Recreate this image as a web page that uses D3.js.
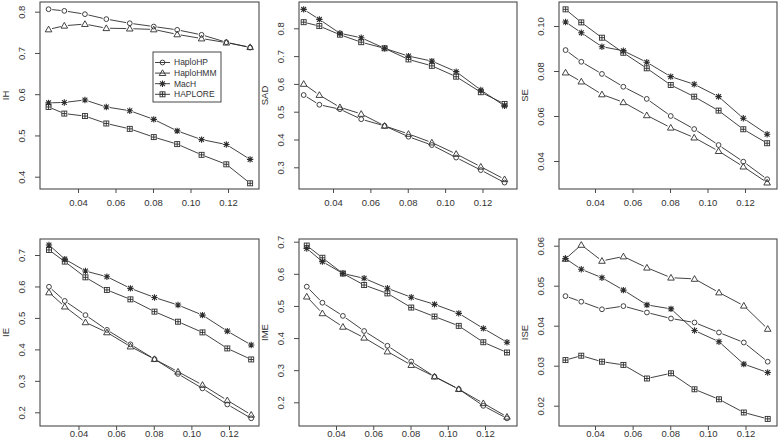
<!DOCTYPE html>
<html><head><meta charset="utf-8">
<script src="https://cdn.jsdelivr.net/npm/d3@7"></script>
<style>body{margin:0;background:#fff}svg{display:block}text{font-family:"Liberation Sans",Arial,sans-serif;fill:#333}</style>
</head><body><svg id="c" width="779" height="447"></svg>
<script>
// ---- data ----
const xValues = [0.0243, 0.0327, 0.0437, 0.0551, 0.0676, 0.0804, 0.0929, 0.1059, 0.1191, 0.1318];
const seriesNames = ["HaploHP", "HaploHMM", "MacH", "HAPLORE"];
const panelNames = ["IH", "SAD", "SE", "IE", "IME", "ISE"];
const xTicks = [0.04, 0.06, 0.08, 0.10, 0.12];
const xTickLabels = ["0.04", "0.06", "0.08", "0.10", "0.12"];

const ihHaploHP  = [0.806, 0.802, 0.794, 0.782, 0.772, 0.764, 0.756, 0.744, 0.726, 0.713];
const ihHaploHMM = [0.757, 0.766, 0.770, 0.760, 0.759, 0.757, 0.745, 0.735, 0.725, 0.714];
const ihMacH     = [0.579, 0.580, 0.586, 0.569, 0.560, 0.539, 0.511, 0.490, 0.478, 0.442];
const ihHAPLORE  = [0.569, 0.553, 0.547, 0.529, 0.516, 0.496, 0.479, 0.453, 0.430, 0.384];

const sadHaploHP  = [0.560, 0.525, 0.509, 0.473, 0.449, 0.410, 0.380, 0.335, 0.290, 0.245];
const sadHaploHMM = [0.600, 0.560, 0.516, 0.492, 0.449, 0.420, 0.389, 0.348, 0.302, 0.257];
const sadMacH     = [0.868, 0.832, 0.782, 0.766, 0.728, 0.700, 0.682, 0.644, 0.578, 0.521];
const sadHAPLORE  = [0.822, 0.808, 0.777, 0.750, 0.728, 0.688, 0.665, 0.626, 0.570, 0.528];

const seHaploHP  = [0.0893, 0.0841, 0.0787, 0.0730, 0.0676, 0.0600, 0.0542, 0.0471, 0.0397, 0.0319];
const seHaploHMM = [0.0793, 0.0753, 0.0696, 0.0661, 0.0603, 0.0548, 0.0504, 0.0444, 0.0375, 0.0304];
const seMacH     = [0.1018, 0.0970, 0.0908, 0.0890, 0.0839, 0.0775, 0.0741, 0.0686, 0.0590, 0.0519];
const seHAPLORE  = [0.1074, 0.1016, 0.0948, 0.0881, 0.0812, 0.0738, 0.0686, 0.0624, 0.0541, 0.0479];

const ieHaploHP  = [0.599, 0.554, 0.509, 0.462, 0.416, 0.369, 0.322, 0.276, 0.225, 0.181];
const ieHaploHMM = [0.581, 0.536, 0.486, 0.454, 0.409, 0.369, 0.329, 0.287, 0.238, 0.192];
const ieMacH     = [0.732, 0.687, 0.649, 0.631, 0.594, 0.565, 0.541, 0.509, 0.458, 0.414];
const ieHAPLORE  = [0.716, 0.679, 0.629, 0.589, 0.559, 0.520, 0.488, 0.454, 0.403, 0.368];

const imeHaploHP  = [0.560, 0.510, 0.469, 0.422, 0.376, 0.327, 0.280, 0.241, 0.189, 0.150];
const imeHaploHMM = [0.529, 0.477, 0.435, 0.401, 0.358, 0.316, 0.280, 0.241, 0.197, 0.155];
const imeMacH     = [0.679, 0.638, 0.601, 0.586, 0.555, 0.527, 0.505, 0.477, 0.430, 0.387];
const imeHAPLORE  = [0.688, 0.650, 0.601, 0.565, 0.539, 0.495, 0.467, 0.438, 0.387, 0.355];

const iseHaploHP  = [0.0474, 0.0460, 0.0441, 0.0449, 0.0433, 0.0418, 0.0408, 0.0383, 0.0358, 0.0310];
const iseHaploHMM = [0.0567, 0.0602, 0.0562, 0.0573, 0.0545, 0.0520, 0.0517, 0.0483, 0.0450, 0.0392];
const iseMacH     = [0.0568, 0.0541, 0.0520, 0.0489, 0.0452, 0.0442, 0.0388, 0.0360, 0.0304, 0.0283];
const iseHAPLORE  = [0.0314, 0.0325, 0.0310, 0.0302, 0.0268, 0.0281, 0.0241, 0.0216, 0.0183, 0.0167];

const yTicksIH  = [0.4, 0.5, 0.6, 0.7, 0.8];
const yTicksSAD = [0.3, 0.4, 0.5, 0.6, 0.7, 0.8];
const yTicksSE  = [0.04, 0.06, 0.08, 0.10];
const yTicksIE  = [0.2, 0.3, 0.4, 0.5, 0.6, 0.7];
const yTicksIME = [0.2, 0.3, 0.4, 0.5, 0.6, 0.7];
const yTicksISE = [0.02, 0.03, 0.04, 0.05, 0.06];

// ---- assemble panels ----
const panelData = [
  [ihHaploHP, ihHaploHMM, ihMacH, ihHAPLORE],
  [sadHaploHP, sadHaploHMM, sadMacH, sadHAPLORE],
  [seHaploHP, seHaploHMM, seMacH, seHAPLORE],
  [ieHaploHP, ieHaploHMM, ieMacH, ieHAPLORE],
  [imeHaploHP, imeHaploHMM, imeMacH, imeHAPLORE],
  [iseHaploHP, iseHaploHMM, iseMacH, iseHAPLORE]
];
const panelYTicks = [yTicksIH, yTicksSAD, yTicksSE, yTicksIE, yTicksIME, yTicksISE];
const panelYFmt = [".1f", ".1f", ".2f", ".1f", ".1f", ".2f"];

// layout: box, calibration of scales (pixel positions of two reference ticks), x label padding
const layout = [
  {box:[40,2,259,189],   xr:[78,228],    yd:[0.8,0.4],   yr:[11.7,176.7], pad:6.5},
  {box:[299,2,517,189],  xr:[333,482.5], yd:[0.8,0.3],   yr:[28.3,167.3], pad:6.5},
  {box:[559,2,777,189],  xr:[595,745],   yd:[0.10,0.04], yr:[26,161],     pad:6.5},
  {box:[40,239,259,426], xr:[78.5,229],  yd:[0.7,0.2],   yr:[255,412.3],  pad:0.5},
  {box:[299,239,517,426],xr:[336,485],   yd:[0.7,0.2],   yr:[241.7,402.3],pad:0.5},
  {box:[559,239,777,426],xr:[595,745.5], yd:[0.06,0.02], yr:[245.7,405.7],pad:0.5}
];

const svg = d3.select("#c");
const ink = "#2e2e2e";
const gap = 3.6;

function marker(g, cx, cy, type) {
  const s = g.append("g").attr("transform", `translate(${cx},${cy})`)
    .attr("fill", "none").attr("stroke", ink).attr("stroke-width", 0.9);
  if (type === 0) s.append("circle").attr("r", 2.4);
  else if (type === 1) s.append("path").attr("d", "M0,-3.3L3.3,2.4L-3.3,2.4Z");
  else if (type === 2) s.append("path").attr("d", "M-3.2,0H3.2M0,-3.2V3.2M-2.4,-2.4L2.4,2.4M-2.4,2.4L2.4,-2.4").attr("stroke-width", 1.1);
  else { s.append("rect").attr("x", -2.5).attr("y", -2.5).attr("width", 5).attr("height", 5);
         s.append("path").attr("d", "M-2.5,0H2.5M0,-2.5V2.5"); }
}

panelNames.forEach((name, p) => {
  const L = layout[p];
  const [x0, y0, x1, y1] = L.box;
  const xs = d3.scaleLinear().domain([0.04, 0.12]).range(L.xr);
  const ys = d3.scaleLinear().domain(L.yd).range(L.yr);
  const g = svg.append("g");

  // box
  g.append("rect").attr("x", x0).attr("y", y0).attr("width", x1 - x0).attr("height", y1 - y0)
    .attr("fill", "none").attr("stroke", "#4a4a4a").attr("stroke-width", 1.1);

  // x axis
  const xa = g.append("g").attr("transform", `translate(0,${y1})`)
    .call(d3.axisBottom(xs).tickValues(xTicks).tickFormat((d, i) => xTickLabels[i]).tickSize(4).tickPadding(L.pad));
  xa.select(".domain").remove();
  xa.selectAll("line").attr("stroke", "#4a4a4a");
  xa.selectAll("text").attr("font-size", "9.5px").attr("fill", "#333").style("font-family", "Liberation Sans, Arial, sans-serif");

  // y axis
  const fmt = d3.format(panelYFmt[p]);
  const ya = g.append("g").attr("transform", `translate(${x0},0)`)
    .call(d3.axisLeft(ys).tickValues(panelYTicks[p]).tickFormat(fmt).tickSize(5).tickPadding(3));
  ya.select(".domain").remove();
  ya.selectAll("line").attr("stroke", "#4a4a4a");
  ya.selectAll("text").attr("font-size", "9.5px").attr("fill", "#333")
    .style("font-family", "Liberation Sans, Arial, sans-serif")
    .attr("text-anchor", "middle").attr("dy", null).attr("x", null)
    .attr("transform", "translate(-15,0) rotate(-90)")
    .attr("y", 0);
  // axis title
  g.append("text").attr("transform", `translate(${x0 - 31},${(y0 + y1) / 2}) rotate(-90)`)
    .attr("text-anchor", "middle").attr("font-size", "9.5px").text(name);

  // series
  panelData[p].forEach((vals, si) => {
    const pts = vals.map((v, i) => [xs(xValues[i]), ys(v)]);
    for (let i = 0; i < pts.length - 1; i++) {
      const [ax, ay] = pts[i], [bx, by] = pts[i + 1];
      const dx = bx - ax, dy = by - ay, len = Math.hypot(dx, dy);
      if (len <= 2 * gap) continue;
      const ux = dx / len, uy = dy / len;
      g.append("line").attr("x1", ax + ux * gap).attr("y1", ay + uy * gap)
        .attr("x2", bx - ux * gap).attr("y2", by - uy * gap)
        .attr("stroke", ink).attr("stroke-width", 0.9);
    }
    pts.forEach(([cx, cy]) => marker(g, cx, cy, si));
  });
});

// legend in first panel
const lg = svg.append("g");
lg.append("rect").attr("x", 153).attr("y", 52).attr("width", 68).attr("height", 50)
  .attr("fill", "#fff").attr("stroke", "#333").attr("stroke-width", 0.9);
const legendY = d3.scalePoint().domain(seriesNames).range([62.5, 94.3]);
seriesNames.forEach((n, i) => {
  const y = legendY(n);
  lg.append("line").attr("x1", 155).attr("x2", 170).attr("y1", y).attr("y2", y).attr("stroke", ink).attr("stroke-width", 0.9);
  marker(lg, 162.5, y, i);
  lg.append("text").attr("x", 174).attr("y", y).attr("dy", "0.35em").attr("font-size", "8.5px").text(n);
});
</script></body></html>
